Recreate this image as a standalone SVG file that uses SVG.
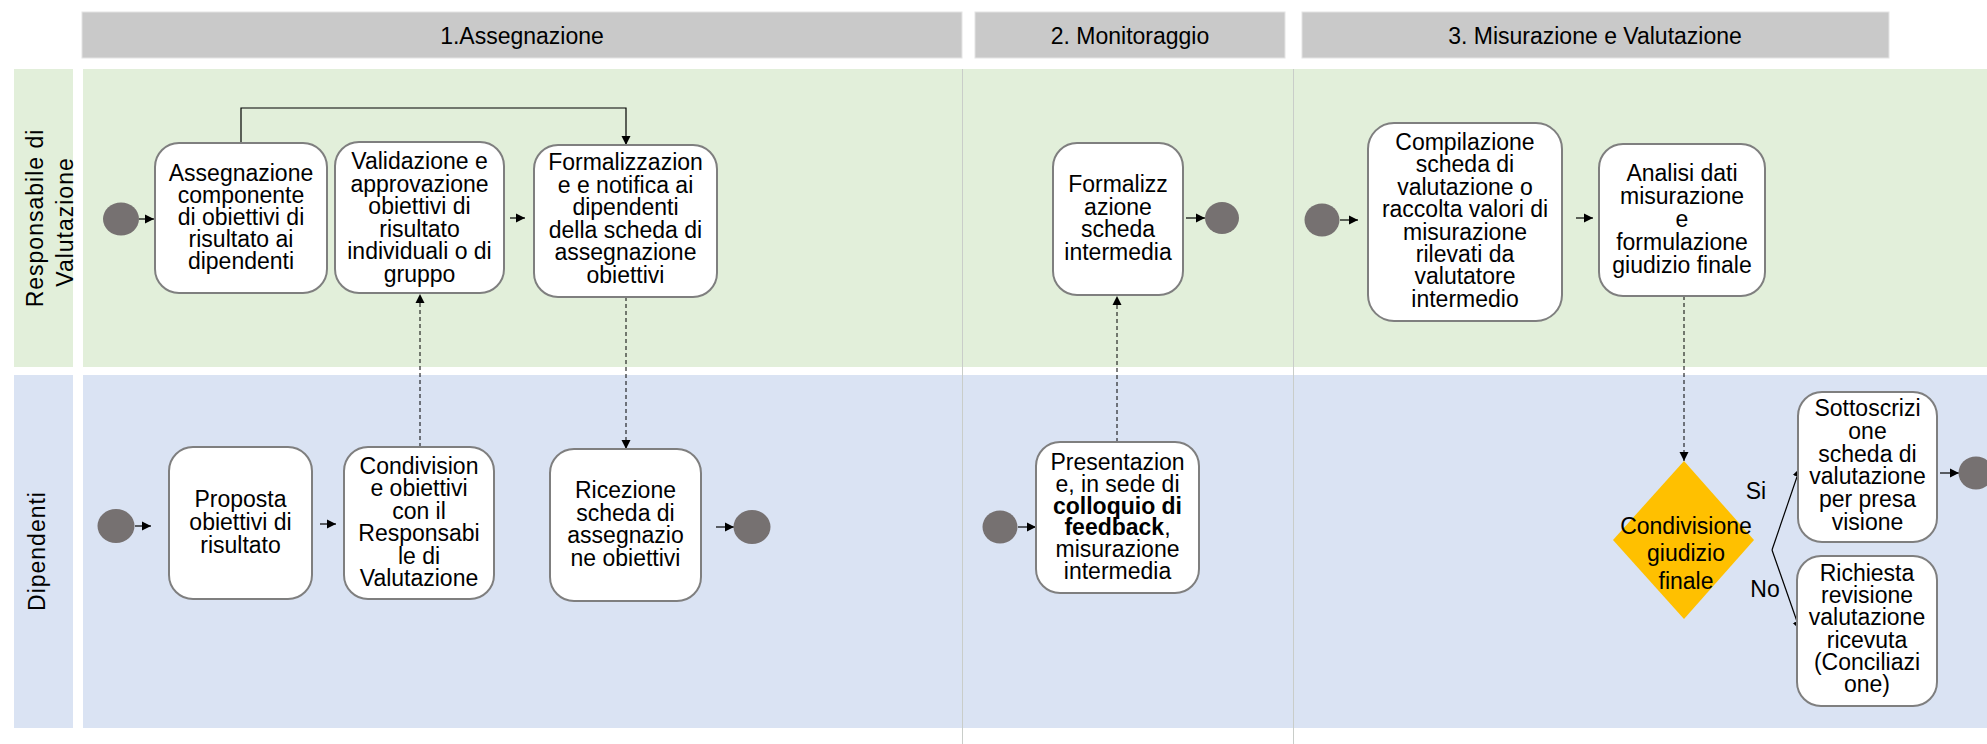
<svg xmlns="http://www.w3.org/2000/svg" width="1987" height="744" viewBox="0 0 1987 744">
  <style>
    text { font-family: "Liberation Sans", Arial, sans-serif; fill: #000; }
    .hdr { fill: #c9c9c9; stroke: #e4e4e4; stroke-width: 1; }
    .hdr-t { font-size: 23px; text-anchor: middle; }
    .lane-g { fill: #e2efda; }
    .lane-b { fill: #dae3f3; }
    .lane-t { font-size: 23px; text-anchor: middle; letter-spacing: 1px; }
    .div { stroke: #c9cdc9; stroke-width: 1; }
    .task { fill: #ffffff; stroke: #7f7f7f; stroke-width: 2; }
    .task-t { font-size: 23px; text-anchor: middle; }
    .ev { fill: #767171; }
    .flow { fill: none; stroke: #000; stroke-width: 1.2; }
    .msg { fill: none; stroke: #000; stroke-width: 1; stroke-dasharray: 4 3; }
    .gw { fill: #ffc000; }
    .b { font-weight: bold; }
  </style>
  <defs>
    <marker id="ah" markerUnits="userSpaceOnUse" markerWidth="10" markerHeight="10" refX="9" refY="5" orient="auto">
      <path d="M0,0.5 L9,5 L0,9.5 z" fill="#000"/>
    </marker>
  </defs>

  <rect width="1987" height="744" fill="#ffffff"/>

  <!-- phase headers -->
  <g id="phases">
    <rect class="hdr" x="82" y="12" width="880" height="46"/>
    <text class="hdr-t" x="522" y="44">1.Assegnazione</text>
    <rect class="hdr" x="975" y="12" width="310" height="46"/>
    <text class="hdr-t" x="1130" y="44">2. Monitoraggio</text>
    <rect class="hdr" x="1302" y="12" width="587" height="46"/>
    <text class="hdr-t" x="1595" y="44">3. Misurazione e Valutazione</text>
  </g>

  <!-- swimlanes -->
  <g id="lanes">
    <rect class="lane-g" x="14" y="69" width="59" height="298"/>
    <rect class="lane-g" x="83" y="69" width="1904" height="298"/>
    <rect class="lane-b" x="14" y="375" width="59" height="353"/>
    <rect class="lane-b" x="83" y="375" width="1904" height="353"/>
    <text class="lane-t" transform="translate(43,218) rotate(-90)">Responsabile di</text>
    <text class="lane-t" transform="translate(73,222) rotate(-90)">Valutazione</text>
    <text class="lane-t" transform="translate(45,551) rotate(-90)">Dipendenti</text>
    <line class="div" x1="962.5" y1="69" x2="962.5" y2="744"/>
    <line class="div" x1="1293.5" y1="69" x2="1293.5" y2="744"/>
  </g>

  <!-- connectors -->
  <g id="connectors">
    <line class="flow" x1="139" y1="219" x2="154" y2="219" marker-end="url(#ah)"/>
    <line class="flow" x1="510" y1="218" x2="525" y2="218" marker-end="url(#ah)"/>
    <polyline class="flow" points="241,143 241,108 626,108 626,145" marker-end="url(#ah)"/>
    <line class="msg" x1="420" y1="447" x2="420" y2="294" marker-end="url(#ah)"/>
    <line class="msg" x1="626" y1="297" x2="626" y2="449" marker-end="url(#ah)"/>
    <line class="flow" x1="135" y1="526" x2="151" y2="526" marker-end="url(#ah)"/>
    <line class="flow" x1="320" y1="524" x2="336" y2="524" marker-end="url(#ah)"/>
    <line class="flow" x1="716" y1="527" x2="734" y2="527" marker-end="url(#ah)"/>
    <line class="flow" x1="1186" y1="218" x2="1205" y2="218" marker-end="url(#ah)"/>
    <line class="msg" x1="1117" y1="442" x2="1117" y2="296" marker-end="url(#ah)"/>
    <line class="flow" x1="1018" y1="527" x2="1036" y2="527" marker-end="url(#ah)"/>
    <line class="flow" x1="1340" y1="220" x2="1358" y2="220" marker-end="url(#ah)"/>
    <line class="flow" x1="1576" y1="218" x2="1593" y2="218" marker-end="url(#ah)"/>
    <line class="msg" x1="1684" y1="296" x2="1684" y2="461" marker-end="url(#ah)"/>
    <polyline class="flow" points="1772,550 1800,468" marker-end="url(#ah)"/>
    <polyline class="flow" points="1772,550 1800,630" marker-end="url(#ah)"/>
    <text class="task-t" x="1756" y="499">Si</text>
    <text class="task-t" x="1765" y="597">No</text>
    <line class="flow" x1="1940" y1="473" x2="1959" y2="473" marker-end="url(#ah)"/>
  </g>

  <!-- Responsabile di Valutazione: assegnazione -->
  <g id="start-rv1"><ellipse class="ev" cx="121" cy="219" rx="18" ry="16.5"/></g>
  <g id="assegnazione">
    <rect class="task" x="155" y="143" width="172" height="150" rx="24"/>
    <text class="task-t" x="241" y="181">Assegnazione</text>
    <text class="task-t" x="241" y="203">componente</text>
    <text class="task-t" x="241" y="225">di obiettivi di</text>
    <text class="task-t" x="241" y="247">risultato ai</text>
    <text class="task-t" x="241" y="269">dipendenti</text>
  </g>
  <g id="validazione">
    <rect class="task" x="335" y="142" width="169" height="151" rx="24"/>
    <text class="task-t" x="419.5" y="169">Validazione e</text>
    <text class="task-t" x="419.5" y="191.5">approvazione</text>
    <text class="task-t" x="419.5" y="214">obiettivi di</text>
    <text class="task-t" x="419.5" y="236.5">risultato</text>
    <text class="task-t" x="419.5" y="259">individuali o di</text>
    <text class="task-t" x="419.5" y="281.5">gruppo</text>
  </g>
  <g id="formalizzazione">
    <rect class="task" x="534" y="145" width="183" height="152" rx="24"/>
    <text class="task-t" x="625.5" y="170">Formalizzazion</text>
    <text class="task-t" x="625.5" y="192.6">e e notifica ai</text>
    <text class="task-t" x="625.5" y="215.2">dipendenti</text>
    <text class="task-t" x="625.5" y="237.8">della scheda di</text>
    <text class="task-t" x="625.5" y="260.4">assegnazione</text>
    <text class="task-t" x="625.5" y="283">obiettivi</text>
  </g>

  <!-- Dipendenti: assegnazione -->
  <g id="start-dip1"><ellipse class="ev" cx="116" cy="526" rx="18.5" ry="17"/></g>
  <g id="proposta">
    <rect class="task" x="169" y="447" width="143" height="152" rx="24"/>
    <text class="task-t" x="240.5" y="507">Proposta</text>
    <text class="task-t" x="240.5" y="530">obiettivi di</text>
    <text class="task-t" x="240.5" y="553">risultato</text>
  </g>
  <g id="condivisione-obiettivi">
    <rect class="task" x="344" y="447" width="150" height="152" rx="24"/>
    <text class="task-t" x="419" y="474">Condivision</text>
    <text class="task-t" x="419" y="496.4">e obiettivi</text>
    <text class="task-t" x="419" y="518.8">con il</text>
    <text class="task-t" x="419" y="541.2">Responsabi</text>
    <text class="task-t" x="419" y="563.6">le di</text>
    <text class="task-t" x="419" y="586">Valutazione</text>
  </g>
  <g id="ricezione">
    <rect class="task" x="550" y="449" width="151" height="152" rx="24"/>
    <text class="task-t" x="625.5" y="498">Ricezione</text>
    <text class="task-t" x="625.5" y="520.5">scheda di</text>
    <text class="task-t" x="625.5" y="543">assegnazio</text>
    <text class="task-t" x="625.5" y="565.5">ne obiettivi</text>
  </g>
  <g id="end-dip1"><ellipse class="ev" cx="752" cy="527" rx="18.5" ry="17"/></g>

  <!-- monitoraggio -->
  <g id="formalizzazione-intermedia">
    <rect class="task" x="1053" y="143" width="130" height="152" rx="24"/>
    <text class="task-t" x="1118" y="192">Formalizz</text>
    <text class="task-t" x="1118" y="214.7">azione</text>
    <text class="task-t" x="1118" y="237.4">scheda</text>
    <text class="task-t" x="1118" y="260">intermedia</text>
  </g>
  <g id="end-rv2"><ellipse class="ev" cx="1222" cy="218" rx="17" ry="16"/></g>
  <g id="start-dip2"><ellipse class="ev" cx="1000" cy="527" rx="17.5" ry="16.5"/></g>
  <g id="presentazione">
    <rect class="task" x="1036" y="442" width="163" height="151" rx="24"/>
    <text class="task-t" x="1117.5" y="470">Presentazion</text>
    <text class="task-t" x="1117.5" y="491.8">e, in sede di</text>
    <text class="task-t b" x="1117.5" y="513.6">colloquio di</text>
    <text class="task-t" x="1117.5" y="535.4"><tspan class="b">feedback</tspan>,</text>
    <text class="task-t" x="1117.5" y="557.2">misurazione</text>
    <text class="task-t" x="1117.5" y="579">intermedia</text>
  </g>

  <!-- misurazione e valutazione -->
  <g id="start-rv3"><ellipse class="ev" cx="1322" cy="220" rx="17.5" ry="16.5"/></g>
  <g id="compilazione">
    <rect class="task" x="1368" y="123" width="194" height="198" rx="26"/>
    <text class="task-t" x="1465" y="150">Compilazione</text>
    <text class="task-t" x="1465" y="172.4">scheda di</text>
    <text class="task-t" x="1465" y="194.8">valutazione o</text>
    <text class="task-t" x="1465" y="217.2">raccolta valori di</text>
    <text class="task-t" x="1465" y="239.6">misurazione</text>
    <text class="task-t" x="1465" y="262">rilevati da</text>
    <text class="task-t" x="1465" y="284.4">valutatore</text>
    <text class="task-t" x="1465" y="306.8">intermedio</text>
  </g>
  <g id="analisi">
    <rect class="task" x="1599" y="144" width="166" height="152" rx="24"/>
    <text class="task-t" x="1682" y="181">Analisi dati</text>
    <text class="task-t" x="1682" y="204">misurazione</text>
    <text class="task-t" x="1682" y="227">e</text>
    <text class="task-t" x="1682" y="250">formulazione</text>
    <text class="task-t" x="1682" y="273">giudizio finale</text>
  </g>
  <g id="condivisione-giudizio">
    <polygon class="gw" points="1684,461 1754,540 1684,619 1613,540"/>
    <text class="task-t" x="1686" y="534">Condivisione</text>
    <text class="task-t" x="1686" y="561">giudizio</text>
    <text class="task-t" x="1686" y="589">finale</text>
  </g>
  <g id="sottoscrizione">
    <rect class="task" x="1798" y="392" width="139" height="150" rx="24"/>
    <text class="task-t" x="1867.5" y="416">Sottoscrizi</text>
    <text class="task-t" x="1867.5" y="438.8">one</text>
    <text class="task-t" x="1867.5" y="461.6">scheda di</text>
    <text class="task-t" x="1867.5" y="484.4">valutazione</text>
    <text class="task-t" x="1867.5" y="507.2">per presa</text>
    <text class="task-t" x="1867.5" y="530">visione</text>
  </g>
  <g id="richiesta">
    <rect class="task" x="1797" y="556" width="140" height="150" rx="24"/>
    <text class="task-t" x="1867" y="581">Richiesta</text>
    <text class="task-t" x="1867" y="603.2">revisione</text>
    <text class="task-t" x="1867" y="625.4">valutazione</text>
    <text class="task-t" x="1867" y="647.6">ricevuta</text>
    <text class="task-t" x="1867" y="669.8">(Conciliazi</text>
    <text class="task-t" x="1867" y="692">one)</text>
  </g>
  <g id="end-dip3"><ellipse class="ev" cx="1976" cy="473" rx="17.5" ry="16.5"/></g>
</svg>
